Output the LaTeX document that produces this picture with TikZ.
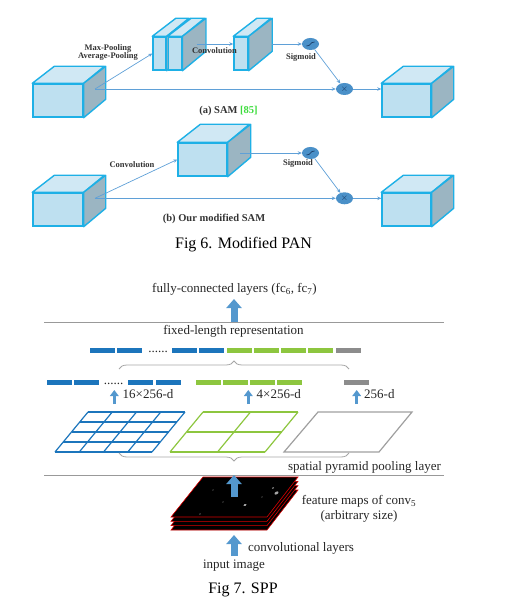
\documentclass[tikz,border=0pt]{standalone}
\usepackage{fontspec}
\setmainfont{Liberation Serif}
\usetikzlibrary{arrows.meta,shapes.geometric,decorations.pathreplacing,calc}
\definecolor{cubeedge}{RGB}{30,176,230}
\definecolor{cubefill}{RGB}{190,224,240}
\definecolor{cubetopfill}{RGB}{208,232,244}
\definecolor{cubesidefill}{RGB}{155,181,194}
\definecolor{flowblue}{RGB}{95,160,215}
\definecolor{opblue}{RGB}{74,144,200}
\definecolor{opdark}{RGB}{20,50,90}
\definecolor{arrowblue}{RGB}{84,152,206}
\definecolor{barblue}{RGB}{28,117,188}
\definecolor{bargreen}{RGB}{141,198,63}
\definecolor{bargray}{RGB}{140,140,140}
\definecolor{citegreen}{RGB}{60,220,60}
\tikzset{
  cubefront/.style={draw=cubeedge, fill=cubefill, line width=1.4pt, inner sep=0pt},
  cubetop/.style={draw=cubeedge, fill=cubetopfill, line width=1.4pt, line join=round},
  cubeside/.style={draw=cubeedge, fill=cubesidefill, line width=1.4pt, line join=round},
  flow/.style={draw=flowblue, line width=0.7pt, -{Stealth[length=4pt,width=3.5pt]}},
  opnode/.style={ellipse, fill=opblue, minimum width=17pt, minimum height=12pt, inner sep=0pt},
  samlabel/.style={font=\fontsize{8.5}{8}\selectfont\bfseries, text=black!80, inner sep=0pt},
  figcaption/.style={font=\fontsize{16}{18}\selectfont, inner sep=0pt},
  spplabel/.style={font=\fontsize{13}{15}\selectfont, text=black!85, inner sep=0pt},
  fatarrow/.style={draw=arrowblue, line width=7pt, -{Triangle[length=9pt,width=15pt]}},
  thinarrow/.style={draw=arrowblue, line width=3.5pt, -{Triangle[length=6pt,width=8.5pt]}},
  bar/.style={minimum width=25pt, minimum height=4.5pt, inner sep=0pt},
  sepline/.style={draw=gray!80, line width=1pt},
  gridline/.style={line width=1.2pt},
  pbrace/.style={draw=gray!70, line width=0.8pt, decorate, decoration={brace, amplitude=8pt}},
  fmap/.style={fill=black, draw=red!85!black, line width=0.6pt},
}
\newcommand{\cube}[6]{%
  \node[cubefront, minimum width=#4pt, minimum height=#5pt] (#1) at (#2,#3) {};
  \filldraw[cubetop] (#1.north west) -- ++(#6) -- ++(#4,0) -- (#1.north east) -- cycle;
  \filldraw[cubeside] (#1.north east) -- ++(#6) -- ++(0,#5) -- (#1.south east) -- cycle;
}

\begin{document}
\begin{tikzpicture}[x=1pt, y=-1pt]
\useasboundingbox (0,0) rectangle (517,612);

% (a) SAM
\cube{cubeA}{58}{100.5}{50}{33}{22,-17}
\cube{poolmax}{159.5}{53.5}{13}{33}{23.5,-18}
\cube{poolavg}{175}{53.5}{13.5}{33}{23.5,-18}
\cube{convA}{241}{53.5}{14}{33}{23.5,-18}
\cube{cubeAR}{406.5}{100.5}{49}{33}{22,-17}
\node[opnode] (sigA) at (310.5,44) {};
\draw[opdark, line width=0.6pt] ($(sigA)+(-4,2)$) .. controls ($(sigA)+(0,2.5)$) and ($(sigA)+(0,-2.5)$) .. ($(sigA)+(4,-2)$);
\node[opnode, text=opdark, font=\small] (multA) at (344.5,89) {$\times$};
\coordinate (inA) at (95,89);
\coordinate (convinA) at (197,44);
\coordinate (convoutA) at (272,44);
\draw[flow] (inA) -- (poolmax.west);
\draw[flow] (inA) -- (multA.west);
\draw[flow] (convinA) -- (convinA -| convA.west);
\draw[flow] (convoutA) -- (sigA.west);
\draw[flow] (sigA) -- (multA);
\draw[flow] (multA.east) -- (multA.east -| cubeAR.west);
\node[samlabel, align=center] (poollbl) at (108,52.5) {Max-Pooling\\Average-Pooling};
\node[samlabel] (convlblA) at (214.5,51) {Convolution};
\node[samlabel] (siglblA) at (301,57) {Sigmoid};
\node[samlabel, font=\fontsize{10.5}{12}\selectfont\bfseries] (titleA) at (228.5,110.7) {(a) SAM \textcolor{citegreen}{[85]}};

% (b) modified SAM
\cube{cubeB}{58}{209.5}{50}{33}{22,-17}
\cube{convB}{202.5}{159.5}{49}{33}{23,-18}
\cube{cubeBR}{406.5}{209.5}{49}{33}{22,-17}
\node[opnode] (sigB) at (310.5,153) {};
\draw[opdark, line width=0.6pt] ($(sigB)+(-4,2)$) .. controls ($(sigB)+(0,2.5)$) and ($(sigB)+(0,-2.5)$) .. ($(sigB)+(4,-2)$);
\node[opnode, text=opdark, font=\small] (multB) at (344.5,198.3) {$\times$};
\coordinate (inB) at (95,198.3);
\coordinate (convoutB) at (240,153);
\draw[flow] (inB) -- (convB.west);
\draw[flow] (inB) -- (multB.west);
\draw[flow] (convoutB) -- (sigB.west);
\draw[flow] (sigB) -- (multB);
\draw[flow] (multB.east) -- (multB.east -| cubeBR.west);
\node[samlabel] (convlblB) at (132,165) {Convolution};
\node[samlabel] (siglblB) at (298,163) {Sigmoid};
\node[samlabel, font=\fontsize{10.5}{12}\selectfont\bfseries] (titleB) at (214,219) {(b) Our modified SAM};
\node[figcaption] (fig6) at (243.5,245) {Fig 6. Modified PAN};

% SPP
\node[spplabel] (fclbl) at (234.5,289) {fully-connected layers (fc\textsubscript{6}, fc\textsubscript{7})};
\draw[sepline] (44,322) coordinate (septopL) -- (444,322) coordinate (septopR);
\draw[fatarrow] (234,322) coordinate (fcfrom) -- (234,299);
\node[spplabel] (fixlbl) at (233.5,331) {fixed-length representation};
\foreach \x [count=\i] in {90,117.3,171.7,199}
  \node[bar, fill=barblue] (fb\i) at (\x+12.5,350.5) {};
\foreach \x [count=\i] in {226.7,254,281,308.3}
  \node[bar, fill=bargreen] (fg\i) at (\x+12.5,350.5) {};
\node[bar, fill=bargray] (fk) at (348.5,350.5) {};
\node[spplabel, anchor=base] (fdots) at (158,352.5) {......};
\draw[pbrace] (119,369) -- (349,369);

\foreach \x [count=\i] in {46.7,74,128.3,155.7}
  \node[bar, fill=barblue] (pb\i) at (\x+12.5,382.5) {};
\foreach \x [count=\i] in {195.7,222.7,250,277.3}
  \node[bar, fill=bargreen] (pg\i) at (\x+12.5,382.5) {};
\node[bar, fill=bargray] (pk) at (356.8,382.5) {};
\node[spplabel, anchor=base] (pdots) at (113.5,384.5) {......};
\draw[thinarrow] (114.3,404) -- (114.3,390);
\draw[thinarrow] (248.3,404) -- (248.3,390);
\draw[thinarrow] (356.7,404) -- (356.7,390);
\node[spplabel, anchor=base west] (d16) at (122.5,398.5) {16×256-d};
\node[spplabel, anchor=base west] (d4) at (256.5,398.5) {4×256-d};
\node[spplabel, anchor=base west] (d1) at (364,398.5) {256-d};

\foreach \i in {0,...,4} {
  \pgfmathsetmacro\v{\i/4}
  \draw[gridline, barblue] (55+33*\v,452-40*\v) -- (152+33*\v,452-40*\v);
  \draw[gridline, barblue] (55+97*\v,452) -- (88+97*\v,412);
}
\foreach \i in {0,1,2} {
  \pgfmathsetmacro\v{\i/2}
  \draw[gridline, bargreen] (170+33*\v,452-40*\v) -- (265+33*\v,452-40*\v);
  \draw[gridline, bargreen] (170+95*\v,452) -- (203+95*\v,412);
}
\draw[gridline, gray!75] (284,452) -- (379,452) -- (412,412) -- (318,412) -- cycle;
\draw[pbrace] (349,453) -- (119,453);
\node[spplabel] (spplbl) at (364.5,467) {spatial pyramid pooling layer};
\draw[sepline] (44,475) coordinate (sepbotL) -- (444,475) coordinate (sepbotR);

\foreach \s in {13,8.6,4.3,0}
  \filldraw[fmap] (203,477+\s) -- (298,477+\s) -- (267,517+\s) -- (171,517+\s) -- cycle;
\foreach \p/\r in {{(276.5,493)}/2.2, {(245,505)}/1.8, {(273,488)}/1.2, {(213,490)}/0.8, {(223,502)}/0.8, {(200,514)}/0.9, {(262,497)}/0.7}
  \fill[gray!70, rotate around={30:\p}] \p ellipse ({\r} and {\r*0.6});
\draw[fatarrow] (234,497) coordinate (fmin) -- (234,475);
\node[spplabel, align=center] (fmlbl) at (359,508.5) {feature maps of conv\textsubscript{5}\\(arbitrary size)};
\draw[fatarrow] (234,556) coordinate (imgout) -- (234,535);
\node[spplabel, anchor=west] (convlyr) at (248,548) {convolutional layers};
\node[spplabel] (inimg) at (234,566) {input image};
\node[figcaption] (fig7) at (243,590) {Fig 7. SPP};
\end{tikzpicture}
\end{document}
